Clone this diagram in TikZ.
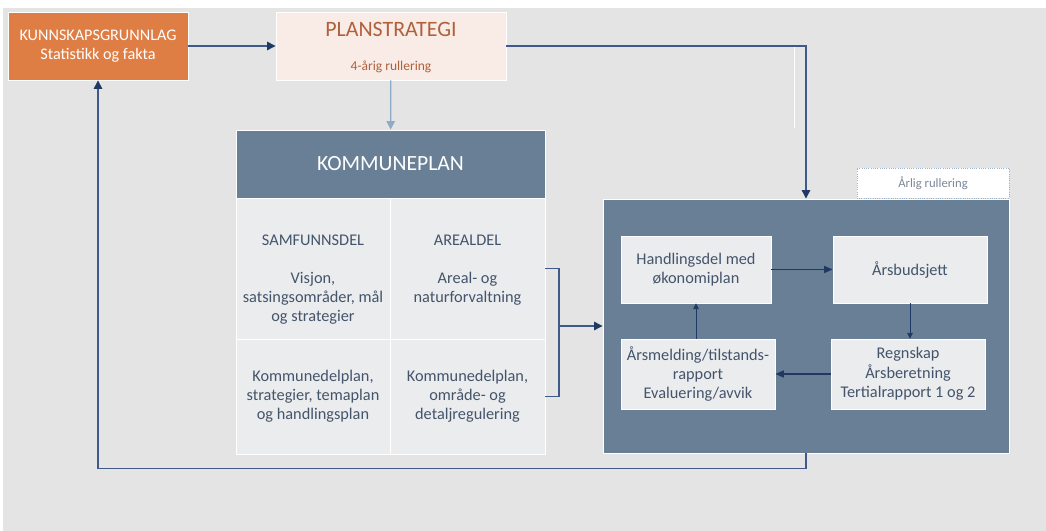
\documentclass[tikz,border=0pt]{standalone}
\usepackage{fontspec}
\setmainfont{Carlito}
\usepackage{xcolor}
\usepackage{tikz}
\usetikzlibrary{arrows.meta}
\definecolor{bggrey}{HTML}{E4E4E4}
\definecolor{kunnorange}{HTML}{DE7E45}
\definecolor{planpink}{HTML}{F9EBE6}
\definecolor{planbrown}{HTML}{B0603A}
\definecolor{slate}{HTML}{687F95}
\definecolor{cellgrey}{HTML}{EBECEE}
\definecolor{txtblue}{HTML}{44546A}
\definecolor{linkblue}{HTML}{3F5A8A}
\definecolor{headnavy}{HTML}{1F3864}
\definecolor{lightlink}{HTML}{8EAAC4}
\definecolor{dotblue}{HTML}{9DB3CF}
\tikzstyle{box}=[draw=white,line width=0.6pt,rectangle,inner sep=0,align=center]
\tikzstyle{cell}=[box,fill=cellgrey,text=txtblue,font=\fontsize{11.6}{13.5}\selectfont]
\tikzstyle{inner}=[box,fill=cellgrey,text=txtblue,font=\fontsize{11.6}{13.8}\selectfont]
\tikzstyle{txt}=[align=center,inner sep=0,text=txtblue,font=\fontsize{11.6}{13.5}\selectfont]
\tikzstyle{flow}=[draw=linkblue,line width=0.9pt,-{Triangle[length=6pt,width=6pt,color=headnavy]}]
\tikzstyle{flowin}=[draw=headnavy,line width=0.9pt,-{Triangle[length=6pt,width=5pt]}]
\tikzstyle{flowthin}=[draw=headnavy,line width=0.5pt,-{Triangle[length=4pt,width=4pt]}]

\begin{document}
\begin{tikzpicture}[x=0.025cm,y=-0.025cm]
\useasboundingbox (0,0) rectangle (1046,531);
\fill[bggrey] (3,8) rectangle (1046,531);

% % % top row
	\node[box,fill=kunnorange,text=white,minimum width=4.5cm,minimum height=1.7cm,
	font=\fontsize{11.5}{14}\selectfont] (kunn) at (98,46) {KUNNSKAPSGRUNNLAG\\Statistikk og fakta};
	\node[box,fill=planpink,minimum width=5.75cm,minimum height=1.7cm] (plan) at (391,46) {};
	\node[text=planbrown,font=\fontsize{15.6}{18}\selectfont] (plantitle) at (391,29) {PLANSTRATEGI};
	\node[text=planbrown,font=\fontsize{9.6}{11}\selectfont] (planrul) at (391,67) {4-årig rullering};

	\path[flow] (kunn) -- (plan);
	\draw[white,line width=0.6pt] (794,46) -- (794,128);

% % % kommuneplan
	\node[box,fill=slate,text=white,minimum width=7.725cm,minimum height=1.7cm,
	font=\fontsize{15.4}{18}\selectfont] (komm) at (390.5,164) {KOMMUNEPLAN};
	\node[cell,minimum width=3.85cm,minimum height=3.525cm] (celltl) at (313,268.5) {};
	\node[cell,minimum width=3.875cm,minimum height=3.525cm] (celltr) at (467.5,268.5) {};
	\node[cell,minimum width=3.85cm,minimum height=2.875cm] (cellbl) at (313,396.5)
	{Kommunedelplan,\\strategier, temaplan\\og handlingsplan};
	\node[cell,minimum width=3.875cm,minimum height=2.875cm] (cellbr) at (467.5,396.5)
	{Kommunedelplan,\\område- og\\detaljregulering};

	\node[txt] (samf) at (313,240) {SAMFUNNSDEL};
	\node[txt] (samfdesc) at (313,298) {Visjon,\\satsingsområder, mål\\og strategier};
	\node[txt] (areal) at (467.5,240) {AREALDEL};
	\node[txt] (arealdesc) at (467.5,288.5) {Areal- og\\naturforvaltning};

	\path[draw=lightlink,line width=0.9pt,-{Triangle[length=6pt,width=6pt]}] (plan) -- (komm);

% % % aarlig rullering
	\node[box,fill=slate,minimum width=10.15cm,minimum height=6.35cm] (bigbox) at (806,326) {};
	\node[box,draw=dotblue,densely dotted,fill=white,text=txtblue!70,minimum width=3.8cm,
	minimum height=0.75cm,font=\fontsize{9}{11}\selectfont] (aarlig) at (933,183) {Årlig rullering};

	\node[inner,minimum width=3.75cm,minimum height=1.675cm] (hand) at (696,269.5) {Handlingsdel med\\økonomiplan};
	\node[inner,minimum width=3.85cm,minimum height=1.675cm] (budsj) at (910,269.5) {Årsbudsjett};
	\node[inner,minimum width=3.85cm,minimum height=1.75cm] (meld) at (698,374) {Årsmelding/tilstands-\\rapport\\Evaluering/avvik};
	\node[inner,minimum width=3.85cm,minimum height=1.75cm] (regn) at (908,374) {Regnskap\\Årsberetning\\Tertialrapport 1 og 2};

	\path[flowin] (hand) -- (budsj);
	\path[flowthin] (budsj.south) -- (budsj.south |- regn.north);
	\path[flowin] (regn) -- (meld);
	\path[flowthin] (hand.south |- meld.north) -- (hand.south);

% % % connections
	\coordinate (brk) at (559,326);
	\path[draw=linkblue,line width=0.9pt] (celltr.east) -| (brk) |- (cellbr.east);
	\path[flow] (brk) -- (bigbox.west);
	\path[flow] (plan.east) -| (bigbox.north);
	\path[flow] (bigbox.south) -- ++(0,15) -| (kunn.south);
\end{tikzpicture}
\end{document}
